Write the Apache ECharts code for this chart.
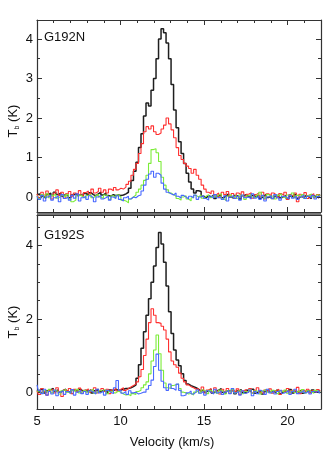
<!DOCTYPE html>
<html>
<head>
<meta charset="utf-8">
<script src="https://cdn.jsdelivr.net/npm/echarts@6/dist/echarts.min.js"></script>
<style>html,body{margin:0;padding:0;background:#fff;}#chart{width:331px;height:468px;}</style>
</head>
<body>
<div id="chart"></div>
<script>
// Channel grid (km/s): first channel velocity and channel width
const V_START = 5.0;
const V_STEP = 0.15;

const panelNames = ['G192N', 'G192S'];
const xTickLabels = ['5', '10', '15', '20'];

// G192N spectra (Tb in K), one value per channel
const g192N_black = [].concat(
  [0.05,0.08,0.02,-0.03,0.06,0.1,0.04,0.12,0.06,0.1],
  [0.02,0.07,0.04,-0.02,0.05,0.08,0.03,0.06,0.02,0.09],
  [0.04,0.11,0.06,0.03,0.08,0.12,0.05,0.1,0.04,0.02],
  [0.06,0.03,0.05,0.04],
  [0.05,0.08,0.12,0.22,0.42,0.65,0.88,1.25,1.6,2.05,2.38,2.3,2.7,3.0,3.5,4.0,4.26,4.16,3.9,3.5,2.85,2.2,1.75,1.4,1.1,0.85,0.6,0.38,0.2,0.1,0.16,0.14,0.02],
  [-0.02,0.03,0.0,0.05,-0.04,0.02,0.06,-0.02,0.03,0.08,0.0,-0.03,0.04,0.02,-0.05,0.03,0.06,0.01,-0.02,0.04,0.0,0.05,-0.03,0.02,0.07,-0.01,0.03,-0.04,0.02,0.05,-0.02,0.01,0.04,-0.05,0.02,0.0,0.06,-0.03,0.02,-0.01,0.04,0.0,-0.04,0.03,0.01,-0.02,0.05]
);
const g192N_red = [].concat(
  [0.08,-0.02,0.12,0.05,0.15,0.02,-0.05,0.1,0.18,0.04],
  [0.12,-0.03,0.08,0.14,0.02,0.1,0.06,0.16,0.03,0.11],
  [0.15,0.08,0.2,0.1,0.14,0.22,0.12,0.18,0.1,0.2],
  [0.16,0.24,0.18,0.22],
  [0.2,0.25,0.32,0.4,0.55,0.7,0.85,1.1,1.35,1.65,1.78,1.72,1.8,1.65,1.58,1.62,1.72,1.82,2.0,1.85,1.7,1.5,1.25,1.05,0.95,0.85,0.78,0.72,0.6,0.7,0.55,0.45,0.3,0.2,0.12],
  [0.08,0.15,0.05,0.1,-0.02,0.12,0.06,0.14,0.02,0.09,-0.04,0.1,0.05,0.13,0.0,0.07,0.11,-0.03,0.06,0.1,0.02,0.12,-0.05,0.08,0.03,0.1,0.05,-0.02,0.09,0.04,0.12,-0.06,0.06,0.02,0.1,-0.12,0.07,0.01,0.11,-0.04,0.05,0.08,-0.02,0.06,0.03]
);
const g192N_green = [].concat(
  [0.03,-0.04,0.06,0.0,0.08,-0.02,0.04,0.07,-0.03,0.02],
  [0.05,0.0,0.06,-0.05,-0.12,-0.08,0.03,0.05,0.0,-0.03],
  [0.04,0.06,-0.02,0.03,0.07,0.0,-0.04,0.05,0.02,-0.06],
  [0.03,-0.02,0.05,0.0,-0.08,-0.1,-0.15,-0.05],
  [0.0,0.05,0.12,0.2,0.3,0.42,0.55,0.85,1.2,1.22,1.12,0.9,0.5,0.3,0.18,0.1,0.06],
  [0.02,-0.04,-0.08,0.0,0.03,-0.05,-0.1,-0.02,0.04,0.0,0.05,-0.03,0.02,0.06,-0.02,0.03,0.0,0.05,0.08,-0.04,-0.09,0.02,0.06,0.0,0.04,-0.03,0.05,0.02,-0.06,0.03,0.07,0.0,-0.02,0.05,0.12,0.02,-0.04,0.06,0.01,0.03,-0.05,0.04,0.08,0.0,-0.03,0.05,0.02,0.1,-0.02,0.04,0.0,0.06,-0.04,0.03,0.08,0.01,-0.02,0.05,0.02]
);
const g192N_blue = [].concat(
  [0.02,-0.06,0.04,-0.1,0.0,0.05,-0.08,-0.02,0.03,-0.12],
  [0.06,-0.04,0.0,-0.08,0.04,-0.03,0.08,-0.1,-0.02,0.02],
  [-0.06,0.03,-0.02,-0.12,0.0,0.04,-0.05,-0.02,0.02,-0.08],
  [0.0,-0.04,0.03,-0.06,-0.1,-0.02,0.02,-0.05,0.0,-0.02,0.03],
  [0.05,0.15,0.3,0.45,0.58,0.65,0.5,0.6,0.55,0.35,0.2,0.12,0.08],
  [0.05,0.1,0.02,-0.03,0.04,0.0,-0.05,0.02,-0.02,0.05,-0.06,0.0,0.03,-0.04,-0.08,0.02,-0.03,0.06,-0.02,0.0,-0.06,0.03,-0.1,0.0,0.04,-0.04,0.02,-0.08,0.05,-0.02,0.0,-0.05,0.08,-0.03,0.02,-0.06,0.04,-0.1,0.0,0.03,-0.04,0.06,-0.02,-0.08,0.02,0.0,-0.05,0.04,-0.03,0.02,-0.06,0.0,0.05,-0.04,0.02,-0.02,0.04,-0.05,0.01,0.03]
);

// G192S spectra (Tb in K)
const g192S_black = [].concat(
  [0.06,0.02,0.08,-0.02,0.04,0.07,0.1,0.03,0.06,0.0],
  [0.05,0.08,0.02,-0.03,0.06,0.04,0.0,0.07,0.03,0.05],
  [0.02,0.06,-0.02,0.04,0.08,0.01,0.05,0.03,-0.02,0.06],
  [0.04,0.08,0.05,0.06,0.08,0.1,0.1,0.12],
  [0.15,0.2,0.38,0.75,1.2,1.65,2.1,2.55,3.0,3.45,3.95,4.36,4.05,3.55,2.9,2.2,1.6,1.15,0.88,0.72,0.5,0.32,0.22,0.18,0.15,0.12,0.08],
  [0.03,0.06,0.0,0.04,0.08,-0.02,0.03,0.05,0.1,0.0,-0.03,0.04,0.02,0.06,-0.04,0.03,0.07,0.0,-0.02,0.05,0.02,0.08,-0.03,0.01,0.04,-0.05,0.02,0.06,0.0,0.03,-0.02,0.05,-0.04,0.01,0.04,0.0,0.07,-0.02,0.03,0.0,0.05,-0.03,0.02,0.04,-0.01,0.06,0.0,0.03,0.02]
);
const g192S_red = [].concat(
  [0.04,-0.06,0.1,0.02,-0.08,0.05,0.08,-0.02,0.12,0.0],
  [-0.12,0.06,0.03,0.1,-0.04,0.08,0.02,0.11,-0.03,0.05],
  [0.09,0.0,0.06,0.12,-0.02,0.04,0.1,0.02,0.08,-0.04],
  [0.06,0.1,0.03,0.08,0.12,0.05,0.1,0.14],
  [0.18,0.22,0.28,0.42,0.62,1.0,1.45,1.9,2.28,2.1,1.9,1.88,1.8,1.7,1.45,1.1,0.85,0.75,0.68,0.52,0.38,0.28,0.2,0.15,0.12,0.08],
  [0.1,0.04,0.14,-0.02,0.06,0.1,0.0,0.12,0.03,-0.05,0.08,0.02,0.1,-0.03,0.05,0.0,0.09,-0.06,0.04,0.07,0.01,0.1,-0.02,0.05,0.12,0.0,-0.04,0.06,0.02,0.09,-0.03,0.04,0.08,-0.06,0.03,0.0,0.1,-0.02,0.05,0.02,0.13,-0.04,0.06,0.01,0.08,-0.02,0.04,0.0,0.07,0.03]
);
const g192S_green = [].concat(
  [0.02,0.06,-0.03,0.04,0.0,0.08,-0.02,0.05,0.02,-0.05],
  [0.04,0.07,0.0,-0.03,0.05,0.02,0.08,-0.02,0.03,0.06],
  [0.0,0.04,0.08,-0.03,0.02,0.05,0.0,0.06,-0.04,0.02],
  [0.04,-0.02,0.03,0.0,-0.05,-0.08,-0.06,-0.1,-0.04,-0.06],
  [0.02,0.05,0.12,0.2,0.28,0.5,0.85,1.15,1.56,1.05,0.6,0.25,0.12,0.1,0.18,0.2,0.22,0.1,0.0],
  [-0.02,-0.05,-0.03,-0.08,0.0,0.04,-0.02,0.06,0.02,-0.04,0.05,0.0,0.03,-0.03,0.06,0.02,-0.05,0.04,0.0,0.07,-0.02,0.03,0.05,-0.04,0.02,0.0,0.06,-0.03,0.04,0.01,-0.05,0.03,0.08,0.0,-0.02,0.05,0.02,-0.04,0.04,0.0,0.06,-0.03,0.02,0.05,-0.01,0.03,0.0,0.07,-0.02,0.04,0.01,-0.03,0.05,0.02,0.0]
);
const g192S_blue = [].concat(
  [0.2,0.05,-0.04,0.08,-0.08,0.02,-0.05,0.06,-0.1,0.0],
  [0.04,-0.06,0.02,-0.03,0.07,-0.08,0.0,0.05,-0.04,0.02],
  [-0.06,0.04,0.0,-0.05,0.08,-0.02,0.03,-0.08,0.05,0.0],
  [-0.04,0.12,0.32,0.05,-0.03,0.02,-0.06,0.04,-0.02,0.0,-0.05,-0.03,0.0],
  [0.0,0.08,0.18,0.33,0.7,1.04,0.6,0.3,0.12,0.05,0.22,0.1,0.05,0.22,0.05,-0.1],
  [-0.08,-0.02,0.03,-0.05,0.0,0.06,-0.03,0.02,-0.08,0.04,0.0,-0.05,0.08,-0.02,0.03,-0.06,0.0,0.05,-0.04,0.1,-0.02,0.02,-0.08,0.04,-0.03,0.0,0.06,-0.1,0.02,-0.04,0.05,0.0,-0.06,0.08,-0.02,0.03,-0.05,0.02,0.06,-0.03,0.0,0.04,-0.06,0.02,0.08,-0.04,0.0,0.05,-0.02,0.03,-0.05,0.02,0.0,0.04,-0.02]
);

const FONT = 'Liberation Sans, Arial, Helvetica, sans-serif';
const colors = { black: '#1e1e1e', red: '#ff3030', green: '#7cec38', blue: '#4868ff' };

function toPairs(arr) {
  return arr.map((t, i) => [+(V_START + i * V_STEP).toFixed(3), t]);
}

function xAx(grid, pos, labels) {
  return {
    type: 'value', gridIndex: grid, position: pos, min: 5, max: 22, interval: 5,
    axisLine: { show: true, onZero: false, lineStyle: { color: '#333', width: 1.2 } },
    axisTick: { show: true, inside: true, length: 5, lineStyle: { color: '#333', width: 1 } },
    minorTick: { show: true, splitNumber: 5, length: 3, lineStyle: { color: '#333', width: 1 } },
    axisLabel: { show: labels, margin: 6, color: '#111', fontSize: 13, fontFamily: FONT,
      formatter: v => xTickLabels.indexOf(String(v)) >= 0 ? String(v) : '' },
    splitLine: { show: false }
  };
}
function yAx(grid, pos, labels, min, max, split, minorSplit) {
  return {
    type: 'value', gridIndex: grid, position: pos, min: min, max: max, splitNumber: split,
    axisLine: { show: true, onZero: false, lineStyle: { color: '#333', width: 1.2 } },
    axisTick: { show: true, inside: true, length: 5, lineStyle: { color: '#333', width: 1 } },
    minorTick: { show: true, splitNumber: minorSplit, length: 3, lineStyle: { color: '#333', width: 1 } },
    axisLabel: { show: labels, margin: 4, color: '#111', fontSize: 13, fontFamily: FONT,
      showMinLabel: false, showMaxLabel: false,
      formatter: v => (Math.abs(v - Math.round(v)) < 1e-6 ? String(Math.round(v)) : '') },
    splitLine: { show: false }
  };
}
function ser(data, color, xi, yi, w) {
  return {
    type: 'line', step: 'middle', showSymbol: false, symbol: 'none', xAxisIndex: xi, yAxisIndex: yi,
    data: toPairs(data), lineStyle: { color: color, width: w }, itemStyle: { color: color },
    clip: true, silent: true
  };
}

const chart = echarts.init(document.getElementById('chart'), null, { renderer: 'canvas' });
chart.setOption({
  animation: false,
  backgroundColor: '#fff',
  grid: [
    { left: 37, top: 20, width: 284, height: 192 },
    { left: 37, top: 215, width: 284, height: 194 }
  ],
  xAxis: [xAx(0, 'bottom', false), xAx(0, 'top', false), xAx(1, 'bottom', true), xAx(1, 'top', false)],
  yAxis: [
    yAx(0, 'left', true, -0.38, 4.48, 5, 2), yAx(0, 'right', false, -0.38, 4.48, 5, 2),
    yAx(1, 'left', true, -0.46, 4.84, 3, 4), yAx(1, 'right', false, -0.46, 4.84, 3, 4)
  ],
  series: [
    ser(g192N_black, colors.black, 0, 0, 1.5),
    ser(g192N_red, colors.red, 0, 0, 1.1),
    ser(g192N_green, colors.green, 0, 0, 1.1),
    ser(g192N_blue, colors.blue, 0, 0, 1.1),
    ser(g192S_black, colors.black, 2, 2, 1.5),
    ser(g192S_red, colors.red, 2, 2, 1.1),
    ser(g192S_green, colors.green, 2, 2, 1.1),
    ser(g192S_blue, colors.blue, 2, 2, 1.1)
  ],
  graphic: [
    { type: 'rect', shape: { x: 37, y: 212, width: 284, height: 3 }, style: { fill: '#777' }, z: 0 },
    { type: 'text', left: 44, top: 31, style: { text: panelNames[0], font: '13px ' + FONT, fill: '#111' } },
    { type: 'text', left: 44, top: 229, style: { text: panelNames[1], font: '13px ' + FONT, fill: '#111' } },
    { type: 'text', x: 172, y: 442, style: { text: 'Velocity (km/s)', font: '13px ' + FONT, fill: '#111', align: 'center', verticalAlign: 'middle' } },
    { type: 'text', x: 13, y: 121, rotation: Math.PI / 2, style: { text: '{a|T}{b|b}{a| (K)}', align: 'center', verticalAlign: 'middle',
        rich: { a: { fontSize: 13, fontFamily: FONT, fill: '#111', lineHeight: 16 }, b: { fontSize: 7, fontFamily: FONT, fill: '#111', lineHeight: 8, verticalAlign: 'bottom' } } } },
    { type: 'text', x: 13, y: 322, rotation: Math.PI / 2, style: { text: '{a|T}{b|b}{a| (K)}', align: 'center', verticalAlign: 'middle',
        rich: { a: { fontSize: 13, fontFamily: FONT, fill: '#111', lineHeight: 16 }, b: { fontSize: 7, fontFamily: FONT, fill: '#111', lineHeight: 8, verticalAlign: 'bottom' } } } }
  ]
});
</script>
</body>
</html>
